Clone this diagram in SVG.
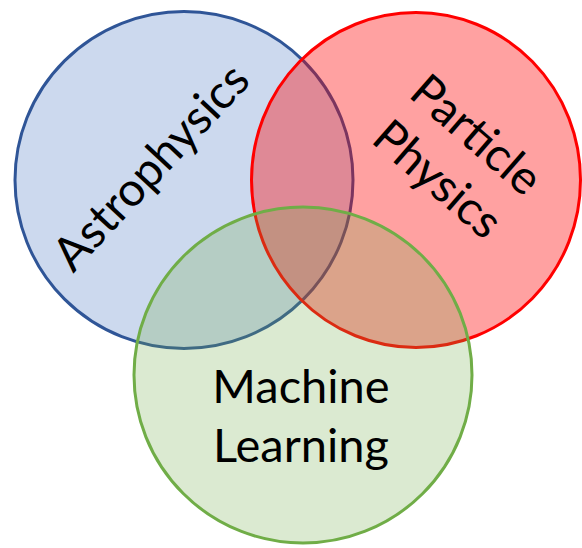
<svg xmlns="http://www.w3.org/2000/svg" width="582" height="548" viewBox="0 0 582 548">
  <style>
    .ring { stroke-width: 3; }
    .label { font-family: Lato, "Open Sans", "Liberation Sans", sans-serif; font-size: 47px; fill: #000; text-anchor: middle; }
  </style>
  <rect width="582" height="548" fill="#ffffff"/>
  <g id="astrophysics">
    <ellipse class="ring" cx="184" cy="180" rx="169" ry="168.5" fill="#CCD9EE" stroke="#2F5597"/>
    <g transform="translate(151,167) rotate(-47)">
      <text class="label" x="0" y="16">Astrophysics</text>
    </g>
  </g>
  <g id="particle-physics">
    <ellipse class="ring" cx="416" cy="180" rx="164.5" ry="167.5" fill="#FF0000" fill-opacity="0.37" stroke="#FF0000"/>
    <g transform="translate(457,157) rotate(41)">
      <text class="label" x="0" y="-13.5">Particle</text>
      <text class="label" x="0" y="45.5">Physics</text>
    </g>
  </g>
  <g id="machine-learning">
    <ellipse class="ring" cx="303" cy="375" rx="169" ry="168" fill="#70AD47" fill-opacity="0.25" stroke="#70AD47"/>
    <text class="label" x="301" y="403">Machine</text>
    <text class="label" x="301" y="462">Learning</text>
  </g>
  <g id="connectors"/>
</svg>
